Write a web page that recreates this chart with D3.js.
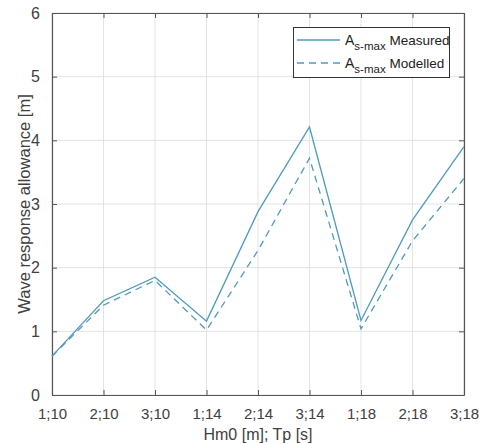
<!DOCTYPE html>
<html><head><meta charset="utf-8">
<script src="https://cdn.jsdelivr.net/npm/d3@7"></script>
<style>body{margin:0;background:#fff}svg{display:block}text{font-family:"Liberation Sans",Arial,sans-serif}</style>
</head><body>
<svg id="c" width="481" height="444"></svg>
<script>
const categories = ["1;10","2;10","3;10","1;14","2;14","3;14","1;18","2;18","3;18"];
const measured = [0.61, 1.48, 1.85, 1.16, 2.88, 4.21, 1.17, 2.75, 3.90];
const modelled = [0.61, 1.41, 1.80, 1.02, 2.27, 3.72, 1.04, 2.42, 3.40];
const yTicks = [0,1,2,3,4,5,6];

const svg = d3.select("#c");
const L=52, R=464, T=13, B=395;
const x = d3.scalePoint().domain(categories).range([L,R]);
const y = d3.scaleLinear().domain([0,6]).range([B,T]);
const col = "#4f9bbd", ax = "#555", tc="#404040";

// grid
svg.append("g").selectAll("line").data(categories).join("line")
  .attr("x1",d=>x(d)).attr("x2",d=>x(d)).attr("y1",T).attr("y2",B)
  .attr("stroke","#e3e3e3").attr("stroke-width",1);
svg.append("g").selectAll("line").data(yTicks).join("line")
  .attr("x1",L).attr("x2",R).attr("y1",d=>y(d)).attr("y2",d=>y(d))
  .attr("stroke","#e3e3e3").attr("stroke-width",1);

// axes
const xa = svg.append("g").attr("transform",`translate(0,${B})`)
  .call(d3.axisBottom(x).tickSizeInner(-5).tickSizeOuter(0).tickPadding(13));
const xt = svg.append("g").attr("transform",`translate(0,${T})`)
  .call(d3.axisTop(x).tickSizeInner(-5).tickSizeOuter(0).tickFormat(""));
const ya = svg.append("g").attr("transform",`translate(${L},0)`)
  .call(d3.axisLeft(y).tickValues(yTicks).tickSizeInner(-5).tickSizeOuter(0).tickPadding(12).tickFormat(d3.format("d")));
const yr = svg.append("g").attr("transform",`translate(${R},0)`)
  .call(d3.axisRight(y).tickValues(yTicks).tickSizeInner(-5).tickSizeOuter(0).tickFormat(""));
[xa,xt,ya,yr].forEach(g=>{
  g.selectAll("path").attr("stroke",ax).attr("stroke-width",1.2);
  g.selectAll("line").attr("stroke",ax);
  g.selectAll("text").attr("fill",tc).attr("font-size",15).attr("font-family","Liberation Sans, Arial, sans-serif");
});
ya.selectAll("text").attr("font-size",16);

// labels
svg.append("text").attr("x",(L+R)/2).attr("y",440).attr("text-anchor","middle")
  .attr("font-size",16).attr("fill",tc).text("Hm0 [m]; Tp [s]");
svg.append("text").attr("transform",`translate(30,${(T+B)/2}) rotate(-90)`).attr("text-anchor","middle")
  .attr("font-size",16.5).attr("fill",tc).text("Wave response allowance [m]");

// lines
const line = d3.line().x((d,i)=>x(categories[i])).y(d=>y(d));
svg.append("path").datum(measured).attr("d",line).attr("fill","none").attr("stroke",col).attr("stroke-width",1.3);
svg.append("path").datum(modelled).attr("d",line).attr("fill","none").attr("stroke",col).attr("stroke-width",1.3).attr("stroke-dasharray","7,5");

// legend
const lg = svg.append("g");
lg.append("rect").attr("x",293.5).attr("y",27.5).attr("width",156).attr("height",50)
  .attr("fill","#fff").attr("stroke","#333").attr("stroke-width",1);
const items = [{t:"Measured",d:null,yy:40},{t:"Modelled",d:"7,5",yy:63}];
items.forEach(it=>{
  lg.append("line").attr("x1",297).attr("x2",340).attr("y1",it.yy).attr("y2",it.yy)
    .attr("stroke",col).attr("stroke-width",1.3).attr("stroke-dasharray",it.d);
  const t = lg.append("text").attr("x",345).attr("y",it.yy+5).attr("font-size",14).attr("fill","#222");
  t.append("tspan").text("A");
  t.append("tspan").attr("font-size",11.5).attr("dy",5).text("s-max");
  t.append("tspan").attr("dy",-5).attr("font-size",13.5).text(" "+it.t);
});
</script>
</body></html>
